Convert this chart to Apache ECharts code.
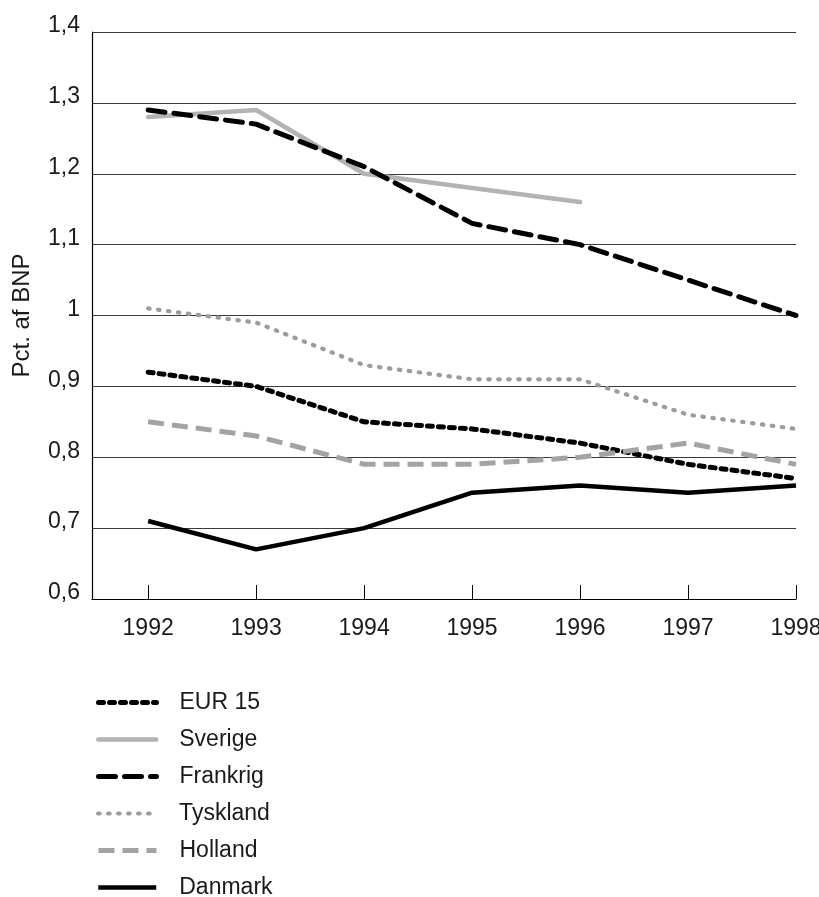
<!DOCTYPE html>
<html>
<head>
<meta charset="utf-8">
<script src="https://cdn.jsdelivr.net/npm/echarts@6/dist/echarts.min.js"></script>
<style>
html,body{margin:0;padding:0;background:#fff;}
#chart{width:819px;height:897px;}
</style>
</head>
<body>
<div id="chart"></div>
<script>
const years = [1992, 1993, 1994, 1995, 1996, 1997, 1998];
const seriesNames = ['EUR 15', 'Sverige', 'Frankrig', 'Tyskland', 'Holland', 'Danmark'];
const eur15    = [0.92, 0.90, 0.85, 0.84, 0.82, 0.79, 0.77];
const sverige  = [1.28, 1.29, 1.20, 1.18, 1.16, null, null];
const frankrig = [1.29, 1.27, 1.21, 1.13, 1.10, 1.05, 1.00];
const tyskland = [1.01, 0.99, 0.93, 0.91, 0.91, 0.86, 0.84];
const holland  = [0.85, 0.83, 0.79, 0.79, 0.80, 0.82, 0.79];
const danmark  = [0.71, 0.67, 0.70, 0.75, 0.76, 0.75, 0.76];
const yTicks = [0.6, 0.7, 0.8, 0.9, 1.0, 1.1, 1.2, 1.3, 1.4];
const yTitle = 'Pct. af BNP';

const values = [eur15, sverige, frankrig, tyskland, holland, danmark];
const styles = [
  {color: '#000000', width: 5, type: [5, 6], cap: 'round'},
  {color: '#b3b3b3', width: 4.5, type: 'solid', cap: 'round'},
  {color: '#000000', width: 5, type: [17, 9], cap: 'round'},
  {color: '#9c9c9c', width: 4.2, type: [1.5, 8.5], cap: 'round'},
  {color: '#a3a3a3', width: 5, type: [16, 8], cap: 'butt'},
  {color: '#000000', width: 4.5, type: 'solid', cap: 'butt'}
];
const FONT = 'Liberation Sans, Arial, sans-serif';
const FS = 23;

const series = seriesNames.map((n, i) => ({
  name: n,
  type: 'line',
  symbol: 'none',
  silent: true,
  connectNulls: false,
  lineStyle: styles[i],
  data: years.map((y, j) => [y, values[i][j]]).filter(p => p[1] !== null)
}));

// one legend component per row so the list is not wrapped into columns
const legends = seriesNames.map((n, i) => {
  const s = styles[i];
  return {
    orient: 'vertical',
    left: 96,
    top: 691 + i * 37,
    padding: 0,
    itemWidth: 58,
    itemHeight: 14,
    selectedMode: false,
    textStyle: {fontSize: FS, color: '#1a1a1a', fontFamily: FONT, padding: [0, 0, 0, 18]},
    itemStyle: {opacity: 0},
    data: [{name: n, lineStyle: {width: s.width, type: s.type, color: s.color, cap: s.cap}}]
  };
});

const chart = echarts.init(document.getElementById('chart'), null, {renderer: 'canvas'});
chart.setOption({
  animation: false,
  backgroundColor: '#ffffff',
  textStyle: {fontFamily: FONT, color: '#1a1a1a'},
  grid: {left: 92, right: 23, top: 32, bottom: 298, containLabel: false, outerBoundsMode: 'none'},
  xAxis: {
    type: 'value',
    min: 1991.48,
    max: 1998,
    axisLine: {show: true, lineStyle: {color: '#000', width: 1.2}},
    axisTick: {show: true, inside: true, length: 14, lineStyle: {color: '#000', width: 1}, customValues: years},
    axisLabel: {show: true, customValues: years, margin: 18, fontSize: FS, color: '#1a1a1a', fontFamily: FONT, formatter: v => String(v)},
    splitLine: {show: false}
  },
  yAxis: {
    type: 'value',
    min: 0.6,
    max: 1.4,
    interval: 0.1,
    name: yTitle,
    nameLocation: 'middle',
    nameGap: 58,
    nameRotate: 90,
    nameTextStyle: {fontSize: 24, color: '#1a1a1a', fontFamily: FONT},
    axisLine: {show: true, lineStyle: {color: '#000', width: 1.2}},
    axisTick: {show: false},
    axisLabel: {
      margin: 12, fontSize: FS, color: '#1a1a1a', fontFamily: FONT,
      verticalAlign: 'bottom', lineHeight: 12,
      formatter: v => {
        const r = Math.round(v * 10) / 10;
        return (r === 1 ? '1' : r.toFixed(1)).replace('.', ',');
      }
    },
    splitLine: {show: true, lineStyle: {color: '#3a3a3a', width: 1}}
  },
  legend: legends,
  series: series
});
</script>
</body>
</html>
